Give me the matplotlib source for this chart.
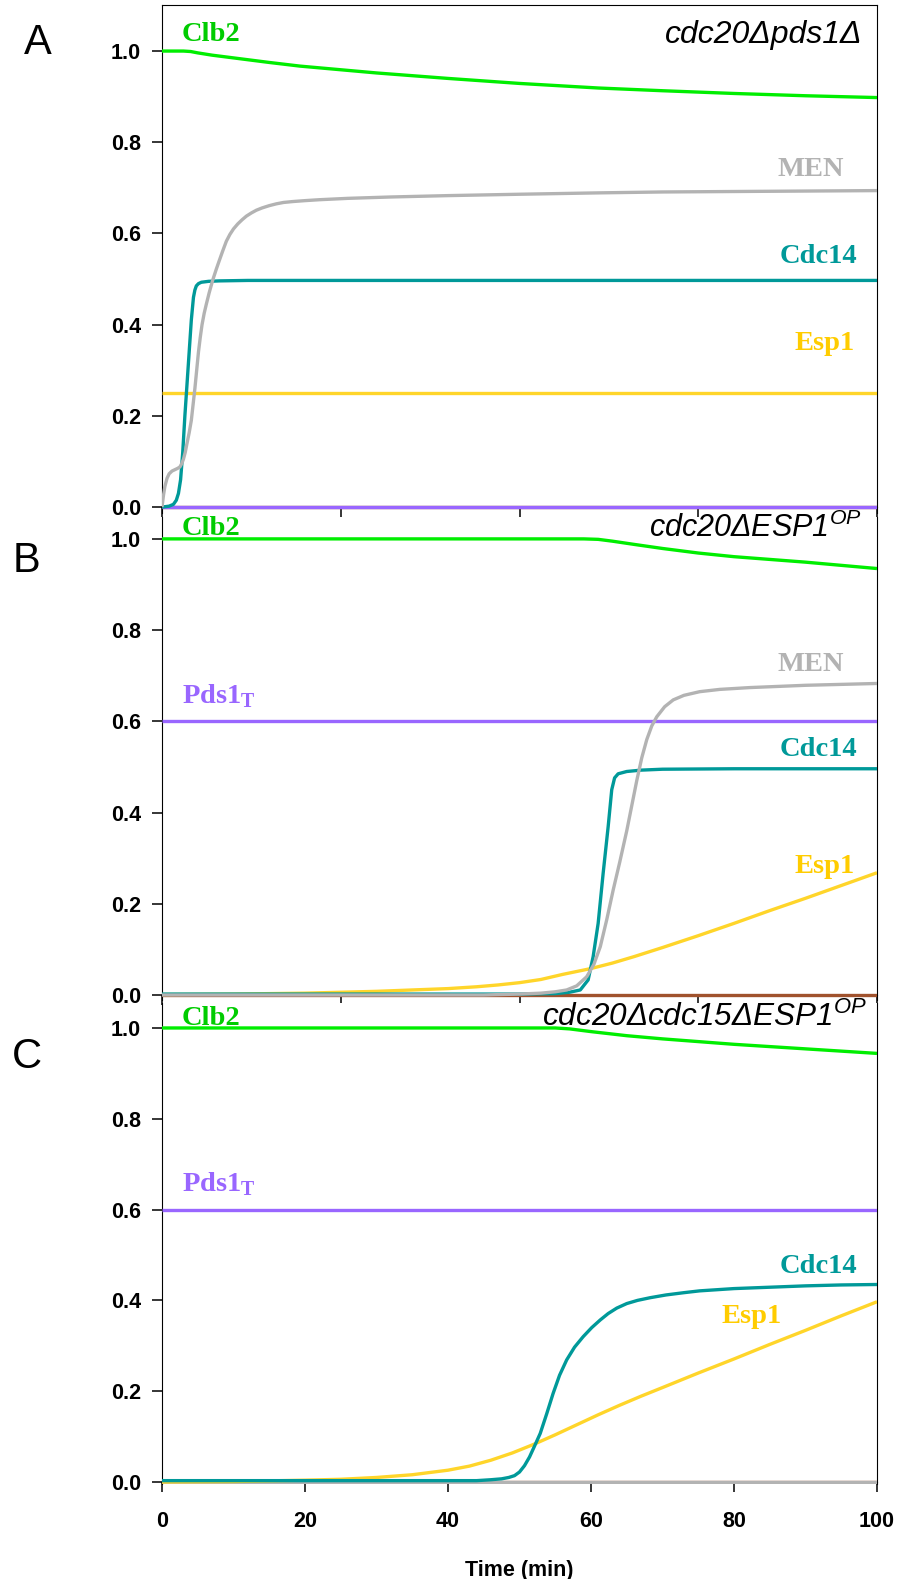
import numpy as np
import matplotlib
matplotlib.use("Agg")
import matplotlib.pyplot as plt

plt.rcParams["mathtext.fontset"] = "custom"
plt.rcParams["mathtext.rm"] = "Liberation Serif:bold"
plt.rcParams["mathtext.bf"] = "Liberation Serif:bold"
plt.rcParams["mathtext.it"] = "Liberation Sans:italic"

# ---------------- Panel A: cdc20Δ pds1Δ ----------------
a_clb2_t = [0, 3, 4, 5, 7, 10, 15, 19.3, 25, 30, 40, 50, 61, 70, 80, 90, 100]
a_clb2 = [1.0, 1.0, 0.999, 0.996, 0.991, 0.985, 0.975, 0.967, 0.959, 0.952, 0.940, 0.929,
          0.919, 0.913, 0.907, 0.902, 0.898]

a_men_t = [0, 0.2, 0.4, 0.7, 1.0, 1.4, 1.8, 2.2, 2.5, 2.75, 3.0, 3.25, 3.5, 3.8, 4.1, 4.35,
           4.6, 4.85, 5.1, 5.35, 5.6, 5.9, 6.2, 6.6, 7.1, 7.6, 8.0, 8.5, 9.0, 9.5, 10.0, 10.6,
           11.2, 11.8, 12.5, 13.2, 14, 15, 16, 17, 18.3, 20, 22, 26, 32, 40, 50, 61, 70, 80,
           90, 100]
a_men = [0, 0.025, 0.045, 0.063, 0.073, 0.079, 0.082, 0.085, 0.088, 0.095, 0.105, 0.12, 0.14,
         0.163, 0.19, 0.225, 0.26, 0.30, 0.34, 0.372, 0.40, 0.425, 0.445, 0.47, 0.498, 0.522,
         0.54, 0.562, 0.583, 0.598, 0.61, 0.621, 0.63, 0.638, 0.645, 0.651, 0.656, 0.661,
         0.665, 0.668, 0.670, 0.672, 0.674, 0.677, 0.680, 0.683, 0.686, 0.689, 0.691, 0.692,
         0.693, 0.694]

a_cdc14_t = [0, 1.0, 1.6, 2.0, 2.3, 2.6, 2.9, 3.2, 3.5, 3.8, 4.1, 4.4, 4.6, 4.8, 5.1, 5.5,
             6.5, 8, 12, 100]
a_cdc14 = [0, 0.002, 0.006, 0.015, 0.03, 0.06, 0.12, 0.2, 0.27, 0.34, 0.41, 0.46, 0.476,
           0.485, 0.49, 0.493, 0.495, 0.496, 0.497, 0.497]

a_esp1_t = [0, 100]
a_esp1 = [0.25, 0.25]

# ---------------- Panel B: cdc20Δ ESP1^OP ----------------
b_clb2_t = [0, 59, 61, 63, 66, 70, 75, 80, 85, 90, 95, 100]
b_clb2 = [1.0, 1.0, 0.999, 0.995, 0.988, 0.979, 0.969, 0.961, 0.955, 0.949, 0.942, 0.935]

b_pds1_t = [0, 100]
b_pds1 = [0.6, 0.6]

b_men_t = [0, 45, 50, 53, 55, 56.6, 58, 59.4, 60.4, 61.3, 62.2, 63.1, 64, 65, 65.7, 66.4,
           67.1, 67.8, 68.5, 69.2, 70.3, 71.5, 73, 75.2, 78, 82.2, 90, 100]
b_men = [0, 0, 0.002, 0.004, 0.007, 0.011, 0.02, 0.04, 0.067, 0.106, 0.165, 0.23, 0.29, 0.36,
         0.415, 0.47, 0.52, 0.56, 0.59, 0.61, 0.632, 0.647, 0.657, 0.665, 0.670, 0.674, 0.679,
         0.683]

b_cdc14_t = [0, 40, 50, 55, 57, 58.5, 59.6, 60.3, 61.0, 61.7, 62.4, 62.9, 63.3, 63.8, 65, 67,
             70, 80, 100]
b_cdc14 = [0.002, 0.002, 0.002, 0.003, 0.006, 0.011, 0.033, 0.084, 0.157, 0.267, 0.369, 0.45,
           0.476, 0.485, 0.49, 0.493, 0.495, 0.496, 0.496]

b_esp1_t = [0, 10, 20, 30, 35, 40, 44, 47, 50, 53, 56, 60, 63, 66, 70, 75, 80, 85, 90, 95, 100]
b_esp1 = [0.001, 0.002, 0.004, 0.008, 0.011, 0.014, 0.018, 0.022, 0.027, 0.034, 0.045, 0.058,
          0.07, 0.084, 0.104, 0.13, 0.157, 0.185, 0.212, 0.24, 0.268]

# ---------------- Panel C: cdc20Δ cdc15Δ ESP1^OP ----------------
c_clb2_t = [0, 55, 57, 60, 65, 70, 75, 80, 85, 90, 95, 100]
c_clb2 = [1.0, 1.0, 0.998, 0.992, 0.983, 0.976, 0.970, 0.964, 0.959, 0.954, 0.949, 0.944]

c_pds1_t = [0, 100]
c_pds1 = [0.6, 0.6]

c_cdc14_t = [0, 44, 46, 47.5, 48.5, 49.3, 50, 50.7, 51.4, 52.1, 52.9, 53.8, 54.7, 55.6, 56.6,
             57.7, 58.9, 60.1, 61.3, 62.4, 63.6, 65, 66.5, 68.3, 70.5, 73, 75.2, 80, 85, 90,
             95, 100]
c_cdc14 = [0.003, 0.003, 0.005, 0.007, 0.01, 0.014, 0.022, 0.036, 0.055, 0.079, 0.107, 0.15,
           0.195, 0.235, 0.269, 0.297, 0.32, 0.34, 0.357, 0.371, 0.383, 0.393, 0.40, 0.406,
           0.412, 0.417, 0.421, 0.426, 0.429, 0.432, 0.434, 0.435]

c_esp1_t = [0, 10, 20, 25, 30, 35, 40, 43, 46, 49, 52, 55, 58, 61, 64, 67, 70, 75, 80, 85, 90,
            95, 100]
c_esp1 = [0, 0.001, 0.004, 0.006, 0.01, 0.016, 0.026, 0.035, 0.048, 0.064, 0.083, 0.104,
          0.126, 0.148, 0.169, 0.189, 0.208, 0.24, 0.271, 0.303, 0.334, 0.366, 0.397]

zero_t = [0, 100]
zero_v = [0, 0]

# colours
GREEN_LINE, GREEN_TXT = "#00ee00", "#00cc00"
GRAY = "#b3b3b3"
TEAL = "#009999"
GOLD_LINE, GOLD_TXT = "#ffd52a", "#ffcc00"
PURPLE = "#9966ff"
BROWN = "#a0522d"
LW = 2.4

W, H = 900, 1579
fig = plt.figure(figsize=(W / 100, H / 100), dpi=100)


def make_axes(top_px, bottom_px):
    return fig.add_axes([162 / W, 1 - bottom_px / H, 715 / W, (bottom_px - top_px) / H])


axA = make_axes(5, 513)
axB = make_axes(517, 1000)
axC = make_axes(1003, 1484)
axA.set_ylim(-0.013, 1.101)
axB.set_ylim(-0.011, 1.048)
axC.set_ylim(-0.0044, 1.055)

tick_font = dict(family="Liberation Sans", weight="bold", size=15.5)
for ax in (axA, axB, axC):
    ax.set_xlim(0, 100)
    ax.spines["bottom"].set_position(("data", 0))
    ax.spines["bottom"].set_zorder(1)
    ax.set_yticks([0, 0.2, 0.4, 0.6, 0.8, 1.0])
    ax.set_yticklabels(["0.0", "0.2", "0.4", "0.6", "0.8", "1.0"], fontdict=tick_font)
    ax.tick_params(axis="both", direction="out", length=7, width=1.1)
    ax.tick_params(axis="y", pad=8)
for ax in (axB, axC):
    ax.spines["top"].set_visible(False)
for ax in (axA, axB):
    ax.set_xticks([0, 25, 50, 75, 100])
    ax.tick_params(axis="x", labelbottom=False)
axC.set_xticks([0, 20, 40, 60, 80, 100])
axC.set_xticklabels(["0", "20", "40", "60", "80", "100"], fontdict=tick_font)
axC.tick_params(axis="x", pad=14)
axC.set_xlabel("Time (min)", family="Liberation Sans", weight="bold", size=15.5, labelpad=20)


def curve(ax, t, v, color):
    ax.plot(t, v, color=color, lw=LW, zorder=3, solid_capstyle="butt", solid_joinstyle="round")


lab = dict(family="Liberation Serif", weight="bold", size=20.5, va="baseline")
geno = dict(family="Liberation Sans", style="italic", ha="right", va="baseline")

# Panel A
curve(axA, zero_t, zero_v, BROWN)
curve(axA, zero_t, zero_v, PURPLE)
curve(axA, a_esp1_t, a_esp1, GOLD_LINE)
curve(axA, a_cdc14_t, a_cdc14, TEAL)
curve(axA, a_men_t, a_men, GRAY)
curve(axA, a_clb2_t, a_clb2, GREEN_LINE)
axA.text(2.75, 1.023, "Clb2", color=GREEN_TXT, ha="left", **lab)
axA.text(95.4, 0.726, "MEN", color=GRAY, ha="right", **lab)
axA.text(97.3, 0.536, "Cdc14", color=TEAL, ha="right", **lab)
axA.text(96.9, 0.344, "Esp1", color=GOLD_TXT, ha="right", **lab)
axA.text(97.9, 1.018, "cdc20Δpds1Δ", size=23, **geno)

# Panel B
curve(axB, zero_t, zero_v, BROWN)
curve(axB, b_pds1_t, b_pds1, PURPLE)
curve(axB, b_esp1_t, b_esp1, GOLD_LINE)
curve(axB, b_cdc14_t, b_cdc14, TEAL)
curve(axB, b_men_t, b_men, GRAY)
curve(axB, b_clb2_t, b_clb2, GREEN_LINE)
axB.text(2.75, 1.009, "Clb2", color=GREEN_TXT, ha="left", **lab)
axB.text(2.75, 0.640, "Pds1$_{\\mathrm{T}}$", color=PURPLE, ha="left", **lab)
axB.text(95.4, 0.711, "MEN", color=GRAY, ha="right", **lab)
axB.text(97.3, 0.524, "Cdc14", color=TEAL, ha="right", **lab)
axB.text(96.9, 0.268, "Esp1", color=GOLD_TXT, ha="right", **lab)
axB.text(97.9, 1.005, "cdc20ΔESP1$^{\\mathit{OP}}$", size=22, **geno)

# Panel C
curve(axC, zero_t, zero_v, BROWN)
curve(axC, zero_t, zero_v, GRAY)
curve(axC, c_pds1_t, c_pds1, PURPLE)
curve(axC, c_esp1_t, c_esp1, GOLD_LINE)
curve(axC, c_cdc14_t, c_cdc14, TEAL)
curve(axC, c_clb2_t, c_clb2, GREEN_LINE)
axC.text(2.75, 1.007, "Clb2", color=GREEN_TXT, ha="left", **lab)
axC.text(2.75, 0.640, "Pds1$_{\\mathrm{T}}$", color=PURPLE, ha="left", **lab)
axC.text(97.3, 0.460, "Cdc14", color=TEAL, ha="right", **lab)
axC.text(86.7, 0.350, "Esp1", color=GOLD_TXT, ha="right", **lab)
axC.text(98.6, 1.005, "cdc20Δcdc15ΔESP1$^{\\mathit{OP}}$", size=22.7, **geno)

# Panel letters
letter = dict(family="Liberation Sans", size=30, ha="center", va="baseline")
fig.text(38 / W, 1 - 53.5 / H, "A", **letter)
fig.text(26 / W, 1 - 572.5 / H, "B", **letter)
fig.text(27 / W, 1 - 1067.5 / H, "C", **letter)

fig.savefig("out.png", dpi=100)
